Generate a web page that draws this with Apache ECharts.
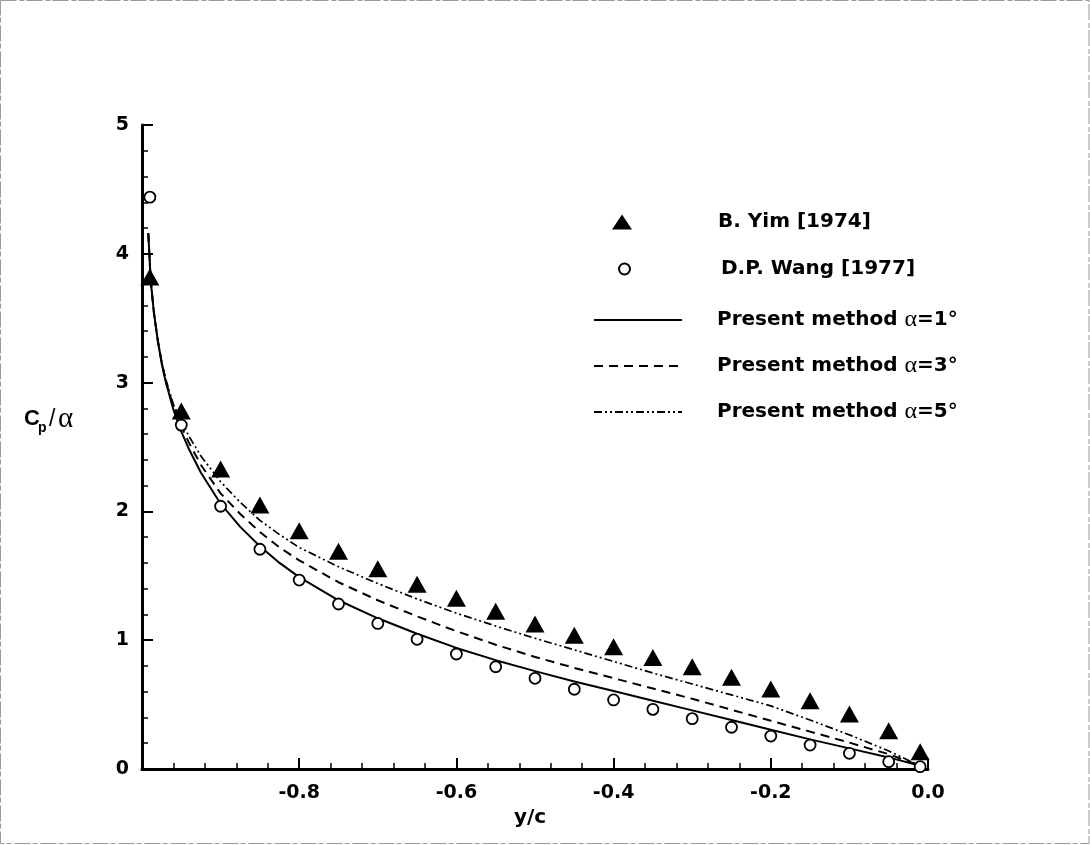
<!DOCTYPE html>
<html>
<head>
<meta charset="utf-8">
<script src="https://cdn.jsdelivr.net/npm/echarts@6/dist/echarts.min.js"></script>
<style>
  html, body { margin: 0; padding: 0; background: #fff; }
  #chart { width: 1090px; height: 845px; }
</style>
</head>
<body>
<div id="chart"></div>
<script>
// Reference data points (y/c, Cp/alpha)
const markerX = [-0.99, -0.95, -0.9, -0.85, -0.8, -0.75, -0.7, -0.65, -0.6, -0.55, -0.5,
                 -0.45, -0.4, -0.35, -0.3, -0.25, -0.2, -0.15, -0.1, -0.05, -0.01];
const yimCp  = [3.82, 2.78, 2.33, 2.05, 1.85, 1.69, 1.555, 1.434, 1.325, 1.225, 1.126,
                1.038, 0.95, 0.866, 0.794, 0.712, 0.621, 0.53, 0.427, 0.297, 0.134];
const wangCp = [4.44, 2.67, 2.04, 1.706, 1.467, 1.281, 1.13, 1.007, 0.893, 0.794, 0.704,
                0.619, 0.536, 0.463, 0.391, 0.324, 0.256, 0.186, 0.122, 0.057, 0.018];

// Present method curves
const curveX = [-0.992, -0.989, -0.985, -0.98, -0.975, -0.97, -0.96, -0.95, -0.94, -0.925, -0.9,
                -0.875, -0.85, -0.825, -0.8, -0.75, -0.7, -0.65, -0.6, -0.55, -0.5, -0.45, -0.4,
                -0.35, -0.3, -0.25, -0.2, -0.15, -0.1, -0.05, -0.01];
const cpAlpha1 = [4.16, 3.80, 3.55, 3.33, 3.15, 3.01, 2.79, 2.62, 2.48, 2.30, 2.06,
                  1.88, 1.73, 1.60, 1.49, 1.31, 1.17, 1.05, 0.94, 0.845, 0.76, 0.68, 0.605,
                  0.53, 0.455, 0.38, 0.305, 0.23, 0.16, 0.09, 0.025];
const cpAlpha3 = [4.16, 3.80, 3.55, 3.33, 3.16, 3.02, 2.81, 2.66, 2.53, 2.36, 2.14,
                  1.98, 1.84, 1.72, 1.62, 1.45, 1.31, 1.185, 1.07, 0.965, 0.87, 0.785, 0.705,
                  0.625, 0.545, 0.46, 0.375, 0.29, 0.205, 0.115, 0.025];
const cpAlpha5 = [4.16, 3.80, 3.55, 3.33, 3.16, 3.03, 2.83, 2.70, 2.58, 2.43, 2.23,
                  2.07, 1.93, 1.82, 1.72, 1.57, 1.44, 1.32, 1.21, 1.11, 1.015, 0.925, 0.835,
                  0.745, 0.66, 0.575, 0.49, 0.38, 0.265, 0.14, 0.025];

const seriesNames = ['B. Yim [1974]', 'D.P. Wang [1977]',
                     'Present method α=1°', 'Present method α=3°', 'Present method α=5°'];

const FONT = 'DejaVu Sans';
const pair = (xs, ys) => xs.map((x, i) => [x, ys[i]]);

const legendText = {
  color: '#000', fontFamily: FONT, fontWeight: 'bold', fontSize: 20,
  rich: { a: { fontFamily: 'Liberation Serif', fontWeight: 'normal', fontSize: 24, color: '#000' } }
};
const alphaFormatter = name => name.replace('α', '{a|α}');

const chart = echarts.init(document.getElementById('chart'), null, { renderer: 'canvas' });

chart.setOption({
  backgroundColor: '#fff',
  animation: false,
  grid: { left: 142, right: 162, top: 125, bottom: 76, containLabel: false, outerBoundsMode: 'none' },
  xAxis: {
    type: 'value', min: -1, max: 0, interval: 0.2,
    name: 'y/c', nameLocation: 'middle', nameGap: 33,
    nameTextStyle: { color: '#000', fontFamily: FONT, fontWeight: 'bold', fontSize: 20, padding: [0, 10, 0, 0] },
    axisLine: { onZero: false, lineStyle: { color: '#000', width: 3 } },
    axisTick: { inside: true, length: 11, lineStyle: { color: '#000', width: 2 } },
    minorTick: { show: true, splitNumber: 5, length: 6, lineStyle: { color: '#000', width: 1.5 } },
    splitLine: { show: false },
    axisLabel: {
      margin: 15, color: '#000', fontFamily: FONT, fontWeight: 'bold', fontSize: 19,
      formatter: v => (v <= -0.999 ? '' : v.toFixed(1))
    }
  },
  yAxis: {
    type: 'value', min: 0, max: 5, interval: 1,
    axisLine: { onZero: false, lineStyle: { color: '#000', width: 3 } },
    axisTick: { inside: true, length: 11, lineStyle: { color: '#000', width: 2 } },
    minorTick: { show: true, splitNumber: 5, length: 6, lineStyle: { color: '#000', width: 1.5 } },
    splitLine: { show: false },
    axisLabel: { margin: 13, color: '#000', fontFamily: FONT, fontWeight: 'bold', fontSize: 19 }
  },
  legend: [
    {
      data: [seriesNames[0]], selectedMode: false, orient: 'vertical', padding: 0,
      left: 612, top: 212, itemWidth: 20, itemHeight: 15,
      textStyle: Object.assign({ padding: [0, 0, 0, 81] }, legendText)
    },
    {
      data: [seriesNames[1]], selectedMode: false, orient: 'vertical', padding: 0,
      left: 618, top: 259, itemWidth: 11, itemHeight: 11,
      textStyle: Object.assign({ padding: [0, 0, 0, 86] }, legendText)
    },
    {
      data: seriesNames.slice(2), selectedMode: false, orient: 'vertical', padding: 0,
      left: 593, top: 308, itemWidth: 88, itemHeight: 14, itemGap: 22,
      formatter: alphaFormatter,
      itemStyle: { color: 'rgba(0,0,0,0)', borderColor: 'rgba(0,0,0,0)', borderWidth: 0 },
      textStyle: Object.assign({ padding: [0, 0, 0, 30] }, legendText)
    }
  ],
  graphic: [
    {
      type: 'rect', silent: true, z: 100,
      shape: { x: 0.5, y: 0.5, width: 1088.5, height: 843 },
      style: { fill: 'none', stroke: '#9a9a9a', lineWidth: 1, lineDash: [16, 3, 5, 2] }
    },
    {
      type: 'group', left: 24, top: 405,
      children: [
        { type: 'text', x: 0, y: 0, style: { text: 'C', fill: '#000', font: 'bold 22px "Liberation Sans"' } },
        { type: 'text', x: 14, y: 13, style: { text: 'p', fill: '#000', font: 'bold 14px "Liberation Sans"' } },
        { type: 'text', x: 25, y: 0, style: { text: '/', fill: '#000', font: '23px "Liberation Sans"' } },
        { type: 'text', x: 34, y: -3, style: { text: 'α', fill: '#000', font: '29px "Liberation Serif"' } }
      ]
    }
  ],
  series: [
    {
      name: seriesNames[2], type: 'line', data: pair(curveX, cpAlpha1),
      symbol: 'none', smooth: false, z: 2,
      itemStyle: { color: '#000' },
      lineStyle: { color: '#000', width: 2, type: 'solid', join: 'round' }
    },
    {
      name: seriesNames[3], type: 'line', data: pair(curveX, cpAlpha3),
      symbol: 'none', smooth: false, z: 2,
      itemStyle: { color: '#000' },
      lineStyle: { color: '#000', width: 2, type: [9, 6], join: 'round' }
    },
    {
      name: seriesNames[4], type: 'line', data: pair(curveX, cpAlpha5),
      symbol: 'none', smooth: false, z: 2,
      itemStyle: { color: '#000' },
      lineStyle: { color: '#000', width: 1.7, type: [8, 3, 2, 3, 2, 3], join: 'round' }
    },
    {
      name: seriesNames[0], type: 'scatter', data: pair(markerX, yimCp),
      symbol: 'triangle', symbolSize: [19, 17], z: 4,
      itemStyle: { color: '#000', opacity: 1 }
    },
    {
      name: seriesNames[1], type: 'scatter', data: pair(markerX, wangCp),
      symbol: 'circle', symbolSize: 11, z: 4,
      itemStyle: { color: '#fff', borderColor: '#000', borderWidth: 1.8, opacity: 1 }
    }
  ]
});
</script>
</body>
</html>
